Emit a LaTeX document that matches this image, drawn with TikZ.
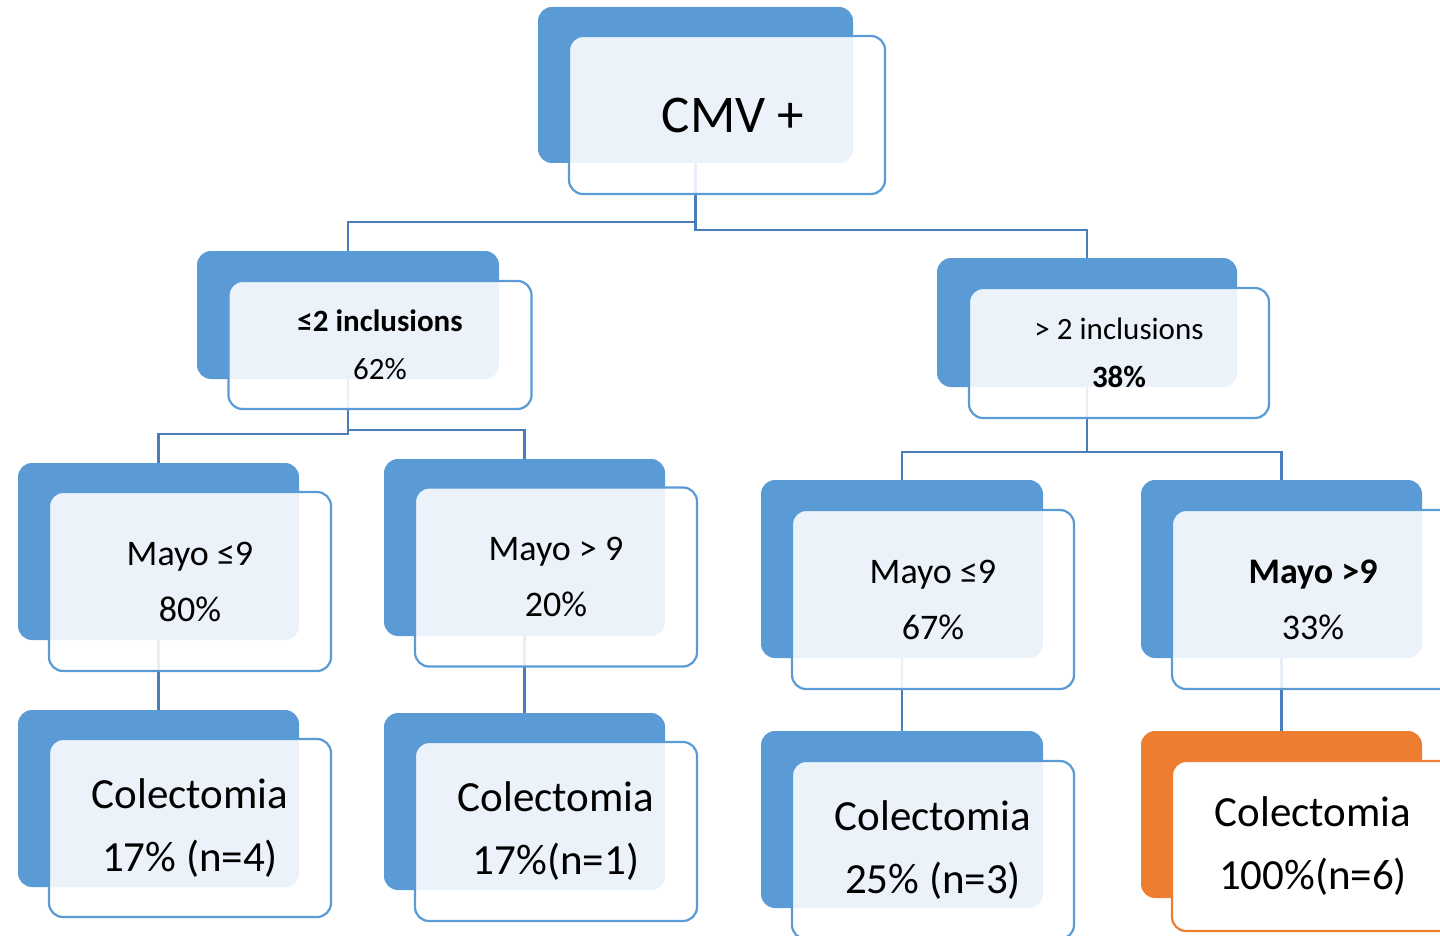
\documentclass[tikz,border=0pt]{standalone}
\usepackage{fontspec}
\setmainfont{Carlito}
\definecolor{bblue}{HTML}{5B9BD5}
\definecolor{fblue}{HTML}{5B9BD5}
\definecolor{cblue}{HTML}{4A7EBB}
\definecolor{borange}{HTML}{ED7D31}
\pgfdeclarelayer{bg}
\pgfsetlayers{bg,main}
\tikzset{
  backbox/.style={draw=none, fill=bblue, rounded corners=14pt, inner sep=0pt},
  frontbox/.style={draw=fblue, line width=2.2pt, fill=white, fill opacity=0.88, text opacity=1,
    rounded corners=14pt, inner sep=0pt, align=center, text=black},
  conn/.style={draw=cblue, line width=2.4pt},
  lvlone/.style={font=\fontsize{31}{48}\selectfont},
  lvltwo/.style={font=\fontsize{36}{56}\selectfont},
  lvlthree/.style={font=\fontsize{43}{63}\selectfont},
}
\begin{document}
\begin{tikzpicture}[x=1pt,y=-1pt]
\useasboundingbox (0,0) rectangle (1440,936);
% root
\node[backbox, minimum width=315pt, minimum height=156pt] (cmvB) at (695.5,85) {};
\node[frontbox, minimum width=316pt, minimum height=158pt, font=\fontsize{53}{60}\selectfont] (cmvF) at (727,115) {\hspace*{12pt}CMV +};
% level 1
\node[backbox, minimum width=302pt, minimum height=128pt] (lB) at (348,315) {};
\node[frontbox, lvlone, minimum width=303pt, minimum height=128pt] (lF) at (380,345) {\textbf{≤2 inclusions}\\62\%};
\node[backbox, minimum width=300pt, minimum height=129pt] (rB) at (1087,322.5) {};
\node[frontbox, lvlone, minimum width=300pt, minimum height=130pt] (rF) at (1119,353) {> 2 inclusions\\\textbf{38\%}};
% level 2
\node[backbox, minimum width=281pt, minimum height=177pt] (llB) at (158.5,551.5) {};
\node[frontbox, lvltwo, minimum width=282pt, minimum height=179pt] (llF) at (190,581.5) {Mayo ≤9\\80\%};
\node[backbox, minimum width=281pt, minimum height=177pt] (lrB) at (524.5,547.5) {};
\node[frontbox, lvltwo, minimum width=282pt, minimum height=179pt] (lrF) at (556,577) {Mayo > 9\\20\%};
\node[backbox, minimum width=282pt, minimum height=178pt] (rlB) at (902,569) {};
\node[frontbox, lvltwo, minimum width=282pt, minimum height=179pt] (rlF) at (933,599.5) {Mayo ≤9\\67\%};
\node[backbox, minimum width=281pt, minimum height=178pt] (rrB) at (1281.5,569) {};
\node[frontbox, lvltwo, minimum width=282pt, minimum height=179pt] (rrF) at (1313,599.5) {\textbf{Mayo >9}\\33\%};
% level 3
\node[backbox, minimum width=281pt, minimum height=177pt] (llcB) at (158.5,798.5) {};
\node[frontbox, lvlthree, minimum width=282pt, minimum height=178pt] (llcF) at (190,828) {Colectomia\\17\% (n=4)};
\node[backbox, minimum width=281pt, minimum height=177pt] (lrcB) at (524.5,801.5) {};
\node[frontbox, lvlthree, minimum width=282pt, minimum height=179pt] (lrcF) at (556,831.5) {Colectomia\\17\%(n=1)};
\node[backbox, minimum width=282pt, minimum height=177pt] (rlcB) at (902,819.5) {};
\node[frontbox, lvlthree, minimum width=282pt, minimum height=178pt] (rlcF) at (933,850) {Colectomia\\25\% (n=3)};
\node[backbox, fill=borange, minimum width=281pt, minimum height=167pt] (rrcB) at (1281.5,814.5) {};
\node[frontbox, lvlthree, draw=borange, fill opacity=1, minimum width=282pt, minimum height=170pt] (rrcF) at (1313,846) {Colectomia\\100\%(n=6)};
% connectors
\begin{pgfonlayer}{bg}
\draw[conn] (cmvB.south) -- ++(0,59) -| (lB.north);
\draw[conn] (cmvB.south) -- ++(0,67) -| (rB.north);
\draw[conn] (lB.south) -- ++(0,55) -| (llB.north);
\draw[conn] (lB.south) -- ++(0,51) -| (lrB.north);
\draw[conn] (rB.south) -- ++(0,65) -| (rlB.north);
\draw[conn] (rB.south) -- ++(0,65) -| (rrB.north);
\draw[conn] (llB.south) -- (llcB.north);
\draw[conn] (lrB.south) -- (lrcB.north);
\draw[conn] (rlB.south) -- (rlcB.north);
\draw[conn] (rrB.south) -- (rrcB.north);
\end{pgfonlayer}
\end{tikzpicture}
\end{document}
